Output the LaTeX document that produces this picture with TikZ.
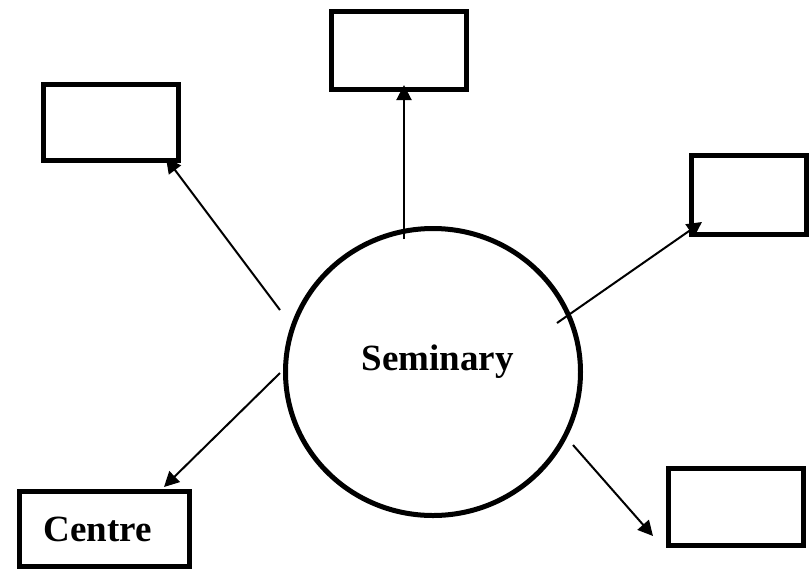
\documentclass[tikz,border=0pt]{standalone}
\usepackage{fontspec}
\setmainfont{Liberation Serif}
\usetikzlibrary{arrows.meta,shapes.geometric}
\begin{document}
\begin{tikzpicture}[x=0.5pt,y=-0.5pt,
  box/.style={draw,line width=2.5pt,inner sep=0pt,rectangle},
  bigcircle/.style={draw,ellipse,line width=2.5pt,inner sep=0pt},
  lbl/.style={font=\fontsize{18.5}{22}\selectfont\bfseries,inner sep=0pt},
  conn/.style={line width=1pt,-{Triangle[length=7.5pt,width=7.5pt]}}]
\useasboundingbox (0,0) rectangle (809,569);
\fill[white] (0,0) rectangle (809,569);
% boxes
\node[box,minimum width=67.5pt,minimum height=39pt] (top) at (399,50.5) {};
\node[box,minimum width=67.5pt,minimum height=38pt] (tl) at (111,122.5) {};
\node[box,minimum width=57.5pt,minimum height=39.5pt] (rt) at (749,195) {};
\node[box,minimum width=67.5pt,minimum height=38.5pt] (br) at (736,507) {};
\node[box,minimum width=85pt,minimum height=37.5pt,
      font=\fontsize{18.5}{22}\selectfont\bfseries] (centre) at (104.5,529) {Centre\kern7pt};
% circle
\node[bigcircle,minimum width=147.5pt,minimum height=143.5pt] (sem) at (433,372) {};
\node[lbl,anchor=base] (semtext) at (437.5,370) {Seminary};
% connector ends
\coordinate (s1) at (404,239);
\coordinate (s2) at (280,310);
\coordinate (s3) at (557,323);
\coordinate (s4) at (280,373);
\coordinate (s5) at (573,445);
\coordinate (t1) at (404,85);
\coordinate (t2) at (166,158);
\coordinate (t3) at (702,222);
\coordinate (t4) at (164,487);
\coordinate (t5) at (653,536);
\draw[conn] (s1) -- (t1);
\draw[conn] (s2) -- (t2);
\draw[conn] (s3) -- (t3);
\draw[conn] (s4) -- (t4);
\draw[conn] (s5) -- (t5);
\end{tikzpicture}
\end{document}
